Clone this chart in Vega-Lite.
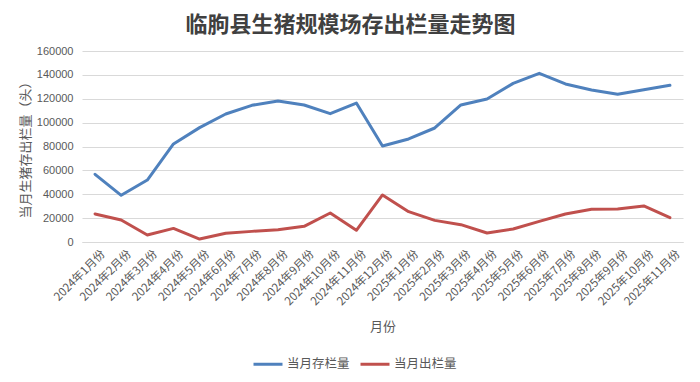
{
  "$schema": "https://vega.github.io/schema/vega-lite/v6.json",
  "width": 601,
  "height": 191,
  "autosize": {"type": "none"},
  "padding": {"left": 82, "top": 51, "right": 17, "bottom": 140},
  "background": "white",
  "title": {
    "text": "临朐县生猪规模场存出栏量走势图",
    "anchor": "middle",
    "dx": -32,
    "offset": 8,
    "fontSize": 22,
    "font": "Noto Sans CJK SC",
    "fontWeight": "bold",
    "color": "#404040"
  },
  "data": {
    "values": [
      {"month": "2024年1月份", "series": "当月存栏量", "value": 56700},
      {"month": "2024年2月份", "series": "当月存栏量", "value": 39100},
      {"month": "2024年3月份", "series": "当月存栏量", "value": 51900},
      {"month": "2024年4月份", "series": "当月存栏量", "value": 82100},
      {"month": "2024年5月份", "series": "当月存栏量", "value": 95800},
      {"month": "2024年6月份", "series": "当月存栏量", "value": 107200},
      {"month": "2024年7月份", "series": "当月存栏量", "value": 114500},
      {"month": "2024年8月份", "series": "当月存栏量", "value": 118100},
      {"month": "2024年9月份", "series": "当月存栏量", "value": 114800},
      {"month": "2024年10月份", "series": "当月存栏量", "value": 107500},
      {"month": "2024年11月份", "series": "当月存栏量", "value": 116400},
      {"month": "2024年12月份", "series": "当月存栏量", "value": 80400},
      {"month": "2025年1月份", "series": "当月存栏量", "value": 86300},
      {"month": "2025年2月份", "series": "当月存栏量", "value": 95500},
      {"month": "2025年3月份", "series": "当月存栏量", "value": 114800},
      {"month": "2025年4月份", "series": "当月存栏量", "value": 119800},
      {"month": "2025年5月份", "series": "当月存栏量", "value": 132900},
      {"month": "2025年6月份", "series": "当月存栏量", "value": 141300},
      {"month": "2025年7月份", "series": "当月存栏量", "value": 132400},
      {"month": "2025年8月份", "series": "当月存栏量", "value": 127300},
      {"month": "2025年9月份", "series": "当月存栏量", "value": 123700},
      {"month": "2025年10月份", "series": "当月存栏量", "value": 127600},
      {"month": "2025年11月份", "series": "当月存栏量", "value": 131300},
      {"month": "2024年1月份", "series": "当月出栏量", "value": 23500},
      {"month": "2024年2月份", "series": "当月出栏量", "value": 18400},
      {"month": "2024年3月份", "series": "当月出栏量", "value": 5900},
      {"month": "2024年4月份", "series": "当月出栏量", "value": 11400},
      {"month": "2024年5月份", "series": "当月出栏量", "value": 2500},
      {"month": "2024年6月份", "series": "当月出栏量", "value": 7300},
      {"month": "2024年7月份", "series": "当月出栏量", "value": 8900},
      {"month": "2024年8月份", "series": "当月出栏量", "value": 10300},
      {"month": "2024年9月份", "series": "当月出栏量", "value": 13100},
      {"month": "2024年10月份", "series": "当月出栏量", "value": 24300},
      {"month": "2024年11月份", "series": "当月出栏量", "value": 9800},
      {"month": "2024年12月份", "series": "当月出栏量", "value": 39400},
      {"month": "2025年1月份", "series": "当月出栏量", "value": 25400},
      {"month": "2025年2月份", "series": "当月出栏量", "value": 18100},
      {"month": "2025年3月份", "series": "当月出栏量", "value": 14500},
      {"month": "2025年4月份", "series": "当月出栏量", "value": 7500},
      {"month": "2025年5月份", "series": "当月出栏量", "value": 10900},
      {"month": "2025年6月份", "series": "当月出栏量", "value": 17300},
      {"month": "2025年7月份", "series": "当月出栏量", "value": 23500},
      {"month": "2025年8月份", "series": "当月出栏量", "value": 27400},
      {"month": "2025年9月份", "series": "当月出栏量", "value": 27600},
      {"month": "2025年10月份", "series": "当月出栏量", "value": 30200},
      {"month": "2025年11月份", "series": "当月出栏量", "value": 20400}
    ]
  },
  "mark": {"type": "line", "strokeWidth": 3, "strokeCap": "round", "strokeJoin": "round"},
  "encoding": {
    "x": {
      "field": "month",
      "type": "ordinal",
      "sort": null,
      "scale": {"paddingInner": 0, "paddingOuter": 0.5},
      "axis": {
        "title": "月份",
        "titleFont": "Noto Sans CJK SC",
        "titleFontSize": 13,
        "titleFontWeight": "normal",
        "titleColor": "#595959",
        "titleY": 84,
        "titleBaseline": "middle",
        "labelAngle": -45,
        "labelAlign": "right",
        "labelBaseline": "middle",
        "labelPadding": 10,
        "labelOffset": 8,
        "labelFont": "Noto Sans CJK SC",
        "labelFontSize": 11.5,
        "labelColor": "#595959",
        "ticks": false,
        "domainColor": "#D9D9D9",
        "grid": false,
        "labelOverlap": false
      }
    },
    "y": {
      "field": "value",
      "type": "quantitative",
      "scale": {"domain": [0, 160000], "nice": false},
      "axis": {
        "title": "当月生猪存出栏量（头）",
        "titleFont": "Noto Sans CJK SC",
        "titleFontSize": 13,
        "titleFontWeight": "normal",
        "titleColor": "#595959",
        "titlePadding": 4,
        "values": [0, 20000, 40000, 60000, 80000, 100000, 120000, 140000, 160000],
        "format": "d",
        "labelFont": "Liberation Sans",
        "labelFontSize": 11,
        "labelColor": "#595959",
        "labelPadding": 9,
        "ticks": false,
        "domain": false,
        "gridColor": "#D9D9D9",
        "gridWidth": 1
      }
    },
    "color": {
      "field": "series",
      "type": "nominal",
      "scale": {"domain": ["当月存栏量", "当月出栏量"], "range": ["#4F81BD", "#C0504D"]},
      "legend": {
        "title": null,
        "orient": "none",
        "direction": "horizontal",
        "legendX": 170,
        "legendY": 297,
        "symbolType": "stroke",
        "symbolSize": 841,
        "symbolStrokeWidth": 3,
        "labelFont": "Noto Sans CJK SC",
        "labelFontSize": 12.5,
        "labelColor": "#595959",
        "labelOffset": 3,
        "columnPadding": 4
      }
    }
  },
  "config": {"view": {"stroke": null}}
}
